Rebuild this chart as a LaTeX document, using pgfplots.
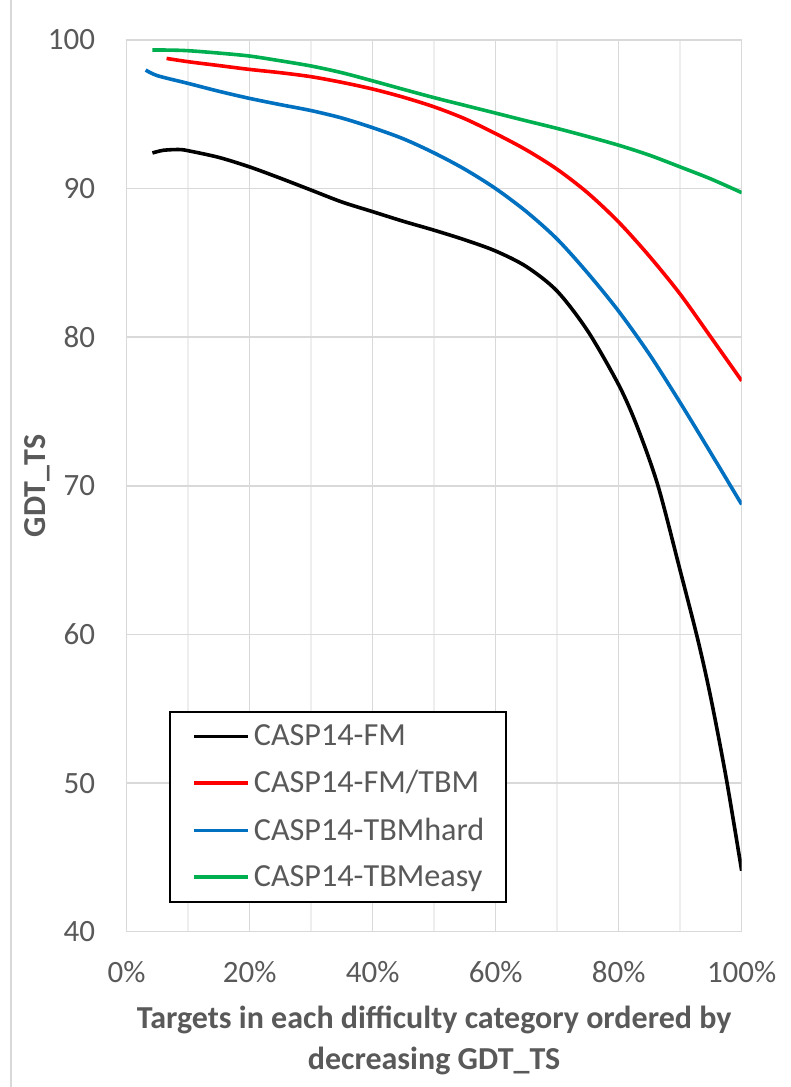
\documentclass[border=0pt]{standalone}
\usepackage{fontspec}
\setmainfont{Carlito}
\usepackage{pgfplots}
\pgfplotsset{compat=1.18}
\definecolor{txtgray}{HTML}{595959}
\definecolor{gridmaj}{HTML}{D9D9D9}
\definecolor{gridmin}{HTML}{EEEEEE}
\definecolor{xlblue}{HTML}{0070C0}
\definecolor{xlgreen}{HTML}{00B050}
\definecolor{xlred}{HTML}{FF0000}

\begin{document}
\begin{tikzpicture}
\begin{axis}[
  scale only axis, width=307.5pt, height=445.8pt,
  xmin=0, xmax=100, ymin=40, ymax=100,
  xtick={0,20,...,100}, xticklabels={0\%,20\%,40\%,60\%,80\%,100\%},
  minor xtick={10,30,50,70,90},
  ytick={40,50,...,100},
  major tick length=0pt, minor tick length=0pt,
  grid=both,
  major grid style={gridmaj, line width=0.75pt},
  minor grid style={gridmin, line width=0.75pt},
  axis line style={gridmaj, line width=0.75pt},
  tick label style={font=\fontsize{15.5}{18}\selectfont, text=txtgray},
  /pgf/number format/assume math mode=true,
  yticklabel style={xshift=-12.2pt},
  xticklabel style={anchor=center, yshift=-20.2pt},
  xlabel={Targets in each difficulty category ordered by\\decreasing GDT\_TS},
  ylabel={GDT\_TS},
  every axis x label/.style={at={(rel axis cs:0.5,-0.1225)}, anchor=center},
  every axis y label/.style={at={(rel axis cs:-0.1457,0.5)}, anchor=center, rotate=90},
  label style={font=\bfseries\fontsize{16}{20.5}\selectfont, text=txtgray, align=center},
  legend cell align=left,
  legend image code/.code={\path (0pt,0pt); \draw[#1] (2pt,0pt) -- (29pt,0pt);},
  legend style={at={(rel axis cs:0.0693,0.0319)}, anchor=south west,
    draw=black, line width=1pt, fill=white,
    font=\fontsize{16.1}{19}\selectfont, text=txtgray,
    row sep=7pt, inner xsep=9pt, inner ysep=4.5pt},
  every axis plot/.append style={line width=1.8pt, smooth, no markers},
]
% CASP14-FM
\addplot[black] coordinates {
(4.2,92.4) (6,92.58) (8.5,92.63) (10,92.55) (15,92.1) (20,91.46) (25,90.7)
(30,89.9) (35,89.1) (40,88.45) (45,87.8) (50,87.2) (55,86.55) (60,85.8)
(65,84.75) (70,83.1) (75,80.4) (80,76.8) (83,74.0) (86.4,70.0) (90,64.3)
(92.9,59.6) (95,55.7) (97.5,50.3) (100,44.1)};
\addlegendentry{CASP14-FM}
% CASP14-FM/TBM
\addplot[xlred] coordinates {
(6.5,98.76) (10,98.54) (15,98.28) (20,98.02) (25,97.8) (30,97.53) (35,97.15)
(40,96.7) (45,96.15) (50,95.5) (55,94.7) (60,93.7) (65,92.6) (70,91.3)
(75,89.7) (80,87.75) (85,85.45) (90,82.9) (95,80.0) (100,77.07)};
\addlegendentry{CASP14-FM/TBM}
% CASP14-TBMhard
\addplot[xlblue] coordinates {
(3.1,97.98) (5,97.6) (10,97.08) (15,96.55) (20,96.07) (25,95.65) (30,95.25)
(35,94.75) (40,94.1) (45,93.35) (50,92.4) (55,91.3) (60,90.0) (65,88.45)
(70,86.6) (75,84.3) (80,81.75) (85,78.85) (90,75.6) (95,72.2) (100,68.75)};
\addlegendentry{CASP14-TBMhard}
% CASP14-TBMeasy
\addplot[xlgreen] coordinates {
(4.2,99.33) (7,99.32) (10,99.28) (15,99.12) (20,98.92) (25,98.6) (30,98.25)
(35,97.8) (40,97.25) (45,96.68) (50,96.12) (55,95.6) (60,95.08) (65,94.56)
(70,94.05) (75,93.5) (80,92.92) (85,92.25) (90,91.46) (95,90.65) (100,89.73)};
\addlegendentry{CASP14-TBMeasy}
\end{axis}
\draw[gridmaj, line width=0.75pt]
  ([xshift=-57.8pt,yshift=-77.65pt]current axis.south west) --
  ([xshift=-57.8pt,yshift=20pt]current axis.north west);
\pgfresetboundingbox
\path ([xshift=-63.3pt,yshift=-77.65pt]current axis.south west) rectangle
  ([xshift=24.2pt,yshift=20pt]current axis.north east);
\end{tikzpicture}
\end{document}
